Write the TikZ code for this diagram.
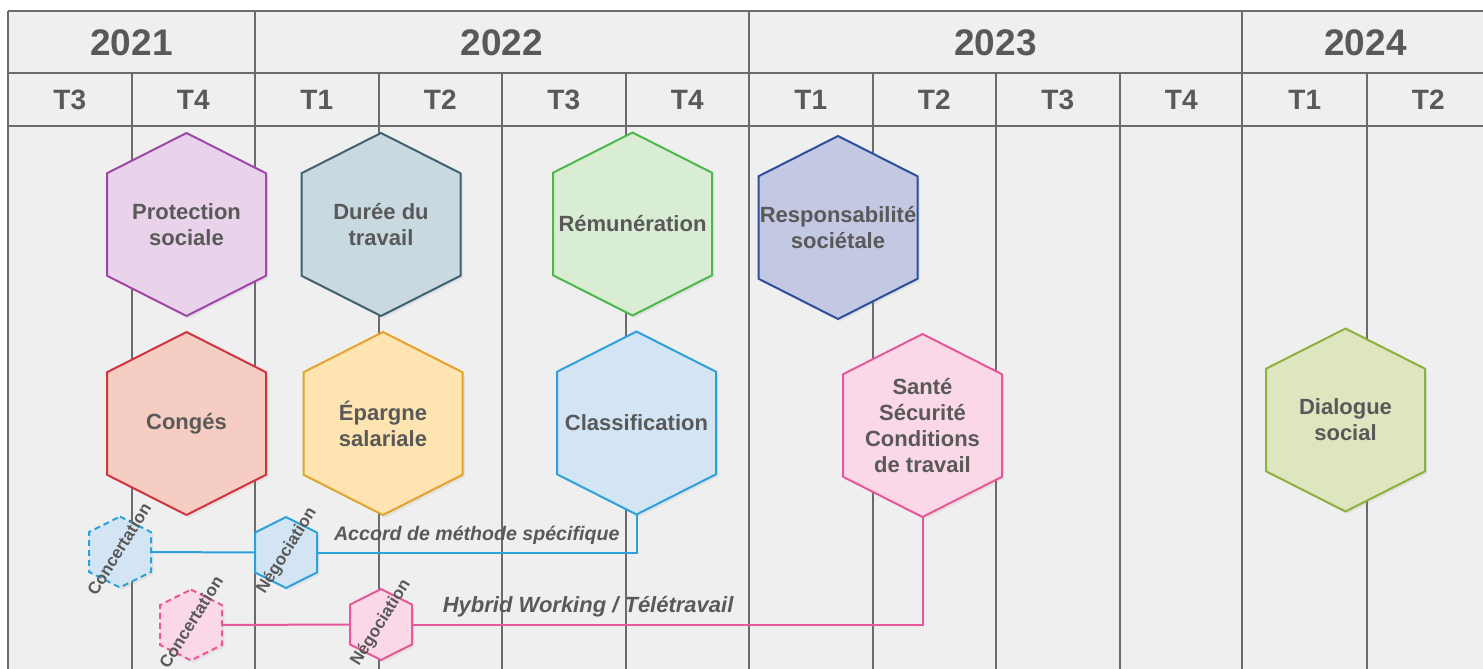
\documentclass[tikz,border=0pt]{standalone}
\usepackage{fontspec}
\setmainfont{Liberation Sans}
\usetikzlibrary{calc,shadows}

\definecolor{txtgray}{HTML}{595959}
\definecolor{gridline}{HTML}{6B6B6B}
\definecolor{gridbg}{HTML}{EFEFEF}
\definecolor{protfill}{HTML}{E8D3EA}\definecolor{protline}{HTML}{A046A8}
\definecolor{dureefill}{HTML}{C9D9E0}\definecolor{dureeline}{HTML}{3F6272}
\definecolor{remunfill}{HTML}{D9EDD5}\definecolor{remunline}{HTML}{4DB84A}
\definecolor{respofill}{HTML}{C4C9E3}\definecolor{respoline}{HTML}{2C4F9C}
\definecolor{congesfill}{HTML}{F5CDC3}\definecolor{congesline}{HTML}{D0343F}
\definecolor{eparfill}{HTML}{FEE4B0}\definecolor{eparline}{HTML}{E4A32B}
\definecolor{classfill}{HTML}{D3E5F4}\definecolor{classline}{HTML}{2DA2DA}
\definecolor{santefill}{HTML}{FAD8E7}\definecolor{santeline}{HTML}{E8579C}
\definecolor{dialfill}{HTML}{DDE6BE}\definecolor{dialline}{HTML}{8BB23C}

\pgfdeclarelayer{grid}
\pgfdeclarelayer{hexes}
\pgfsetlayers{grid,hexes,main}

% hexagon drawn round a named node: [extra]{node}{fill}{line}
\newcommand\hexa[4][]{%
  \begin{pgfonlayer}{hexes}
    \filldraw[line width=1pt, fill=#3, draw=#4,
      drop shadow={shadow xshift=1.2pt, shadow yshift=-1.2pt, opacity=.12}, #1]
      (#2.north) -- ($(#2.north east)!.22!(#2.south east)$)
      -- ($(#2.north east)!.78!(#2.south east)$) -- (#2.south)
      -- ($(#2.south west)!.22!(#2.north west)$)
      -- ($(#2.south west)!.78!(#2.north west)$) -- cycle;
  \end{pgfonlayer}}

\begin{document}
\begin{tikzpicture}[x=.5pt, y=-.5pt,
    gridl/.style={draw=gridline, line width=1pt},
    yearlbl/.style={text=txtgray, font=\fontsize{18.5}{20}\selectfont\bfseries},
    quartlbl/.style={text=txtgray, font=\fontsize{14}{16}\selectfont\bfseries},
    hexbig/.style={inner sep=0pt, outer sep=0pt, minimum width=79.5pt, minimum height=91.5pt,
      align=center, text=txtgray, font=\fontsize{11}{13}\selectfont\bfseries},
    hexsmall/.style={inner sep=0pt, outer sep=0pt, minimum width=31pt, minimum height=35.5pt},
    steptxt/.style={rotate=58, text=txtgray, font=\fontsize{8.5}{10}\selectfont\bfseries},
    lbl/.style={text=txtgray, font=\bfseries\itshape},
    dashedhex/.style={dash pattern=on 3pt off 2pt}]
    \useasboundingbox (0,0) rectangle (1483,669);

    % grid
    \begin{pgfonlayer}{grid}
    \fill[white] (0,0) rectangle (1483,669);
    \fill[gridbg] (8,11) rectangle (1483,669);
    \draw[gridl] (8,11) -- (1483,11) (8,73) -- (1483,73) (8,126) -- (1483,126);
    \foreach \x in {8,255,749,1242}
        \draw[gridl] (\x,11) -- (\x,669);
    \foreach \x in {131.5,378.5,502,625.5,872.5,996,1119.5,1366.5}
        \draw[gridl] (\x,73) -- (\x,669);
    \end{pgfonlayer}

    \foreach \yr/\x in {2021/131.5,2022/502,2023/995.5,2024/1365.5}
        \node[yearlbl] (y\yr) at (\x,43) {\yr};
    \foreach \q/\x [count=\i] in {T3/69.75,T4/193.25,T1/316.75,T2/440.25,T3/563.75,T4/687.25,
        T1/810.75,T2/934.25,T3/1057.75,T4/1181.25,T1/1304.75,T2/1428.25}
        \node[quartlbl] (q\i) at (\x,100) {\q};

    % themes
    \node[hexbig] (prot) at (186.5,224.5) {Protection\\sociale};
    \node[hexbig] (duree) at (381,224.5) {Durée du\\travail};
    \node[hexbig] (remun) at (632.5,224) {Rémunération};
    \node[hexbig] (respo) at (838,227.5) {Responsabilité\\sociétale};
    \node[hexbig] (conges) at (186.5,423.5) {Congés};
    \node[hexbig] (epargne) at (383,423.5) {Épargne\\salariale};
    \node[hexbig] (classif) at (636.5,423) {Classification};
    \node[hexbig] (sante) at (922.5,425.5) {Santé\\Sécurité\\Conditions\\de travail};
    \node[hexbig] (dialog) at (1345.5,420) {Dialogue\\social};
    \hexa{prot}{protfill}{protline}
    \hexa{duree}{dureefill}{dureeline}
    \hexa{remun}{remunfill}{remunline}
    \hexa{respo}{respofill}{respoline}
    \hexa{conges}{congesfill}{congesline}
    \hexa{epargne}{eparfill}{eparline}
    \hexa{classif}{classfill}{classline}
    \hexa{sante}{santefill}{santeline}
    \hexa{dialog}{dialfill}{dialline}

    % steps
    \node[hexsmall] (concA) at (120,552) {};
    \node[hexsmall] (negoA) at (286,552.5) {};
    \node[hexsmall] (concB) at (191,625) {};
    \node[hexsmall] (negoB) at (381,624.5) {};
    \hexa[dashedhex]{concA}{classfill}{classline}
    \hexa{negoA}{classfill}{classline}
    \hexa[dashedhex]{concB}{santefill}{santeline}
    \hexa{negoB}{santefill}{santeline}
    \node[steptxt] (concA-t) at (119,549) {Concertation};
    \node[steptxt] (negoA-t) at (287,551) {Négociation};
    \node[steptxt] (concB-t) at (191,622) {Concertation};
    \node[steptxt] (negoB-t) at (381,623) {Négociation};

    \draw[classline, line width=1pt] (concA.east) -- (negoA.west);
    \draw[classline, line width=1pt] (negoA.east)
        -- node[lbl, above, font=\fontsize{9.8}{11}\selectfont\bfseries\itshape] (accord)
           {Accord de méthode spécifique} (negoA.east -| classif.south) -- (classif.south);
    \draw[santeline, line width=1pt] (concB.east) -- (negoB.west);
    \draw[santeline, line width=1pt] (negoB.east)
        -- node[lbl, above, pos=.345, font=\fontsize{11}{13}\selectfont\bfseries\itshape] (hybrid)
           {Hybrid Working / Télétravail} (negoB.east -| sante.south) -- (sante.south);
\end{tikzpicture}
\end{document}
